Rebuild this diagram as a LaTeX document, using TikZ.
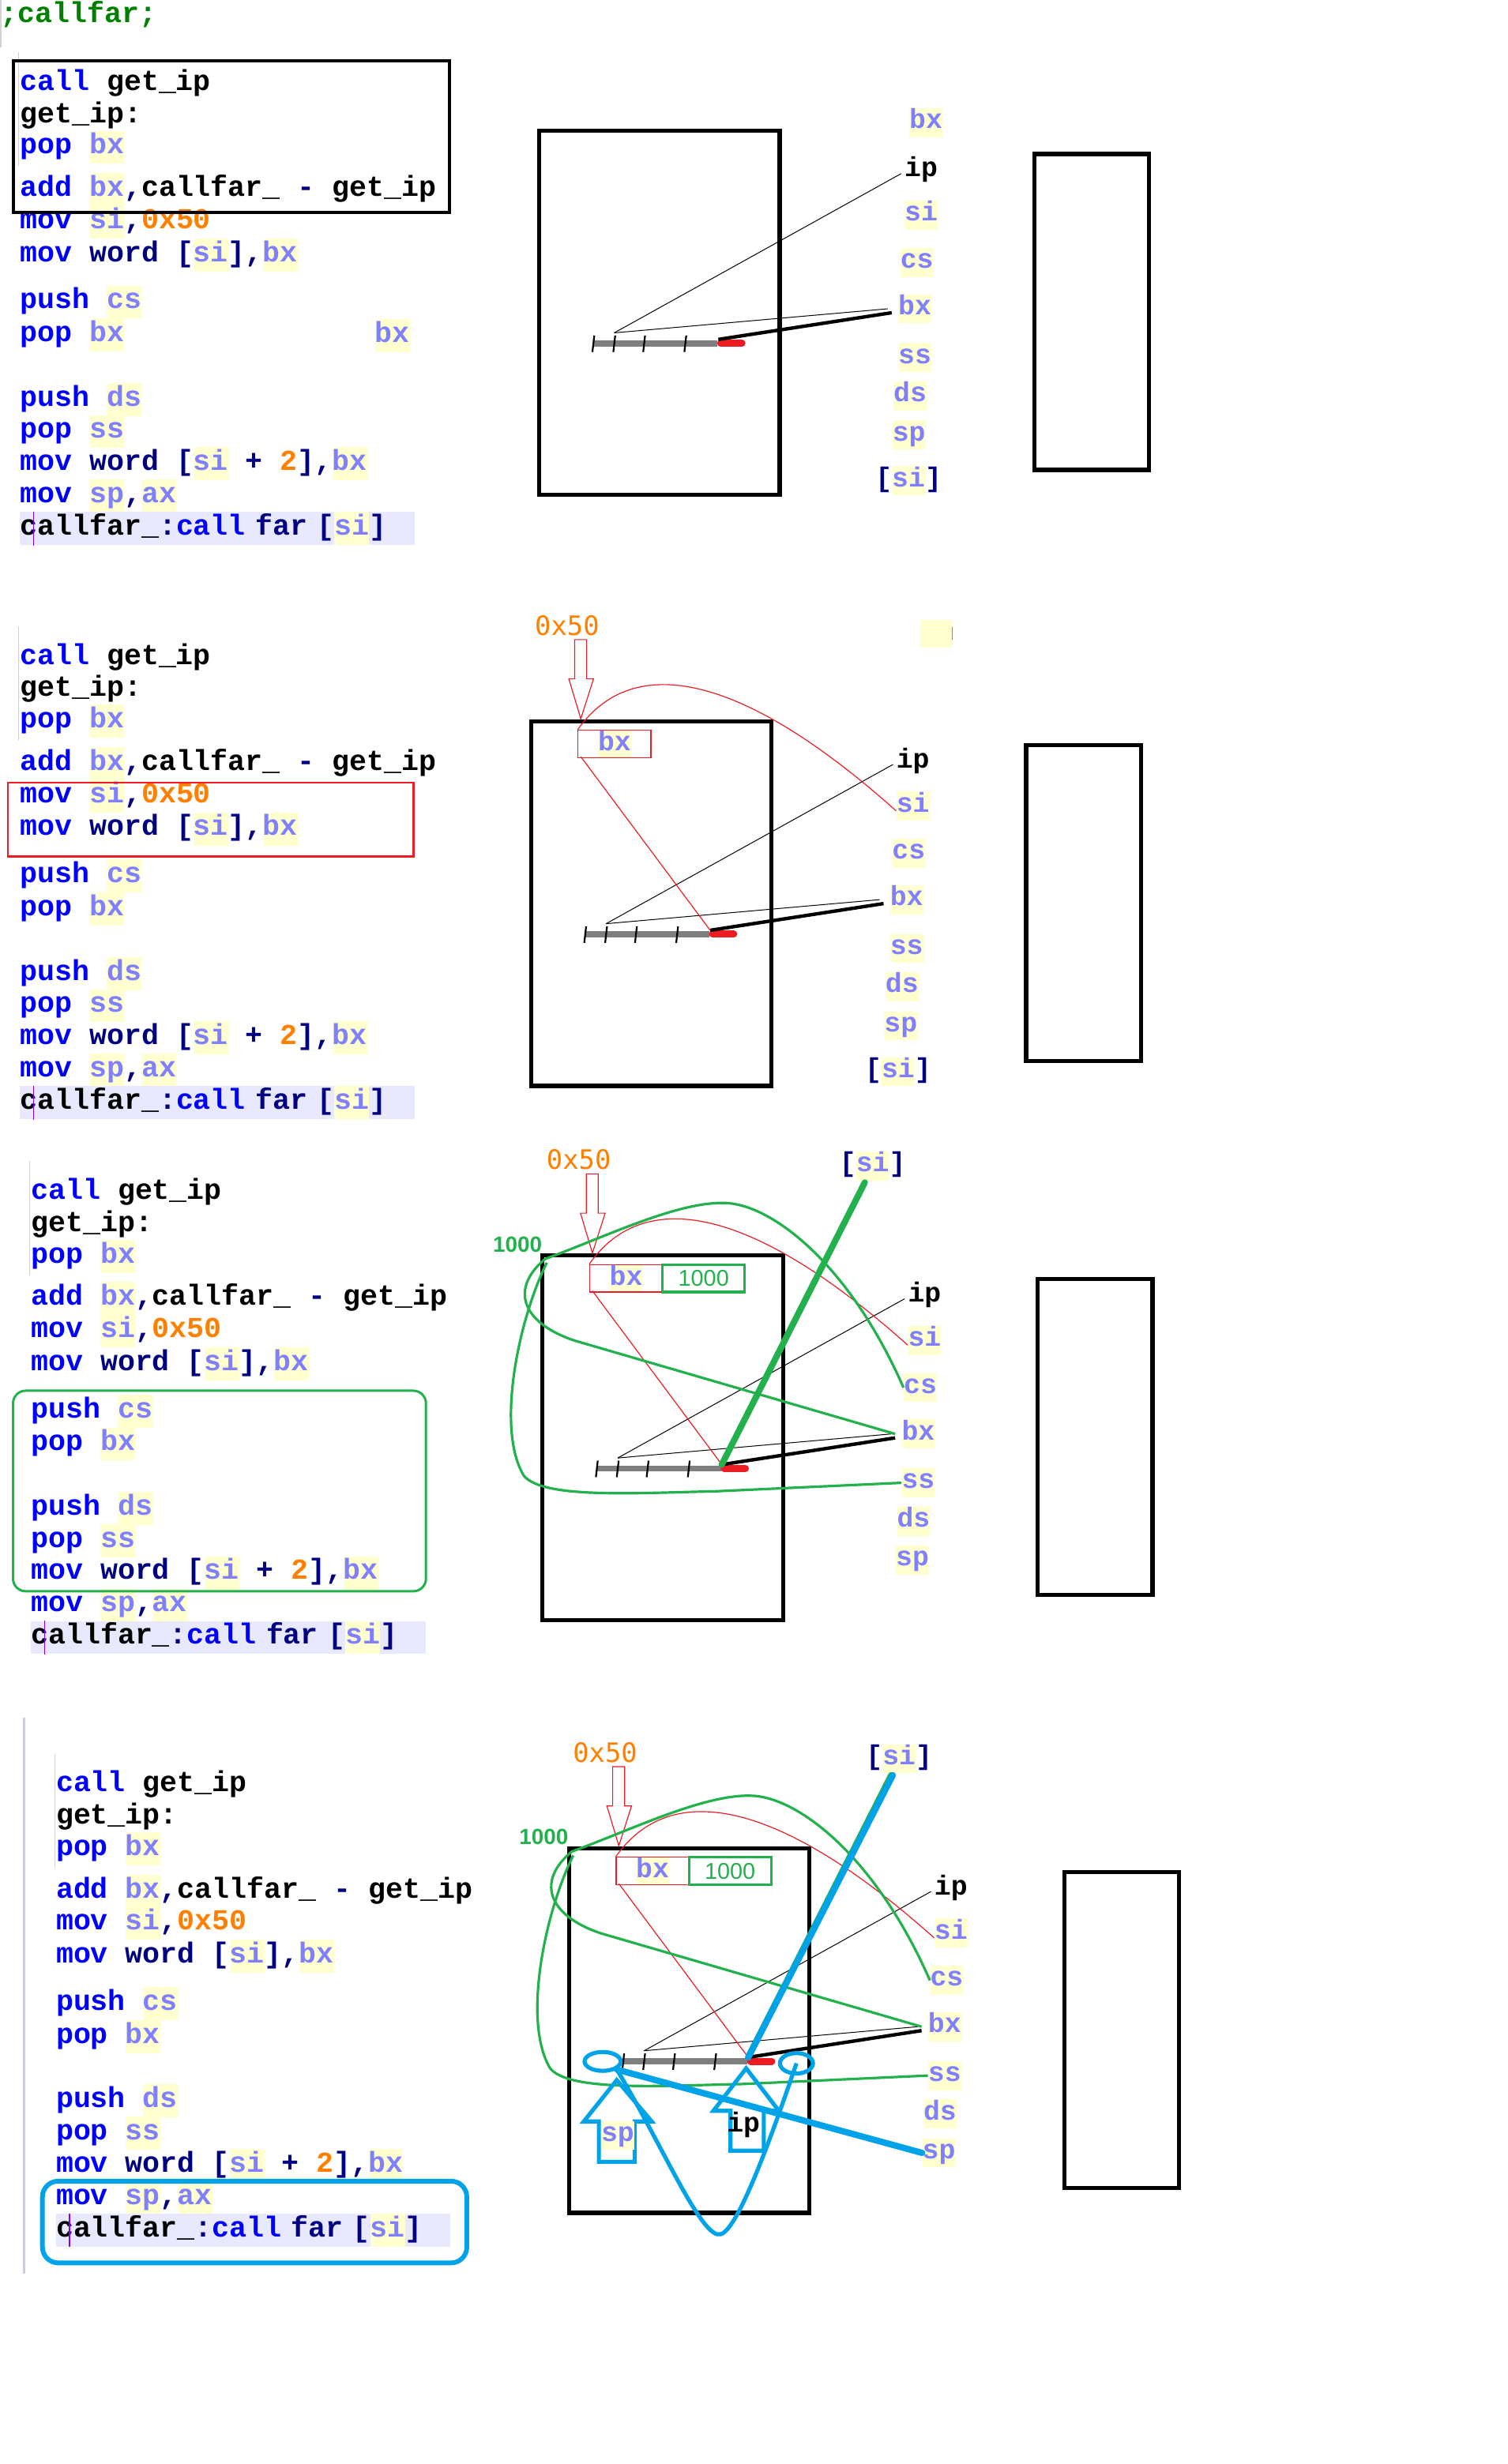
\documentclass[tikz,border=0pt]{standalone}
\usepackage{fontspec}
\setmonofont{Liberation Mono}
\newfontfamily\hexfont{DejaVu Sans Mono}
\newfontfamily\numfont{Liberation Sans}
\usepackage{xcolor}
\usetikzlibrary{shapes.geometric}

\definecolor{kwblue}{RGB}{0,0,255}
\definecolor{opnavy}{RGB}{0,0,128}
\definecolor{regblue}{RGB}{128,128,255}
\definecolor{hlyellow}{RGB}{255,255,208}
\definecolor{numorange}{RGB}{255,128,0}
\definecolor{curline}{RGB}{232,232,255}
\definecolor{cmtgreen}{RGB}{0,128,0}
\definecolor{paintred}{RGB}{237,28,36}
\definecolor{paintgreen}{RGB}{34,177,76}
\definecolor{paintblue}{RGB}{0,162,232}
\definecolor{paintgray}{RGB}{127,127,127}
\definecolor{foldgray}{RGB}{210,210,210}
\definecolor{cursorpurple}{RGB}{128,0,255}
\definecolor{marginblue}{RGB}{200,208,224}

\newcommand{\codefont}{\ttfamily\bfseries\fontsize{18.4}{21}\selectfont}
\newcommand{\lblfont}{\ttfamily\bfseries\fontsize{17.5}{18.5}\selectfont}
\newcommand{\kw}[1]{\textcolor{kwblue}{#1}}
\newcommand{\nv}[1]{\textcolor{opnavy}{#1}}
\newcommand{\nm}[1]{\textcolor{numorange}{#1}}
\newcommand{\rg}[1]{{\setlength{\fboxsep}{0pt}\colorbox{hlyellow}{\strut\textcolor{regblue}{#1}}}}

% the 13 source lines, one node each
\newcommand{\codeblock}[1]{%
  \draw[foldline] (-0.5,-19.5) -- (-0.5,53);
  \foreach \ly/\ltxt [count=\li] in {
      0/{\kw{call} get\_ip},
      20.5/{get\_ip:},
      41/{\kw{pop} \rg{bx}},
      68/{\kw{add} \rg{bx}\nv{,}callfar\_ \nv{-} get\_ip},
      88.5/{\kw{mov} \rg{si}\nv{,}\nm{0x50}},
      109.5/{\kw{mov} \nv{word} \nv{[}\rg{si}\nv{],}\rg{bx}},
      139.5/{\kw{push} \rg{cs}},
      160.5/{\kw{pop} \rg{bx}},
      201.5/{\kw{push} \rg{ds}},
      222/{\kw{pop} \rg{ss}},
      242.5/{\kw{mov} \nv{word} \nv{[}\rg{si} \nv{+} \nm{2}\nv{],}\rg{bx}},
      263/{\kw{mov} \rg{sp}\nv{,}\rg{ax}}}
    {\node[codeline] (#1-\li) at (0,\ly) {\ltxt};}
  \node[codeline, fill=curline, text width=251pt, align=left] (#1-13) at (0,283.7)
    {callfar\_\nv{:}\kw{call} \nv{far} \nv{[}\rg{si}\nv{]}};
  \draw[cursorpurple, line width=0.6pt] ([xshift=8.7pt]#1-13.north west) -- ([xshift=8.7pt]#1-13.south west);
}

% memory picture: segment box, stack bar, register column
\newcommand{\memframe}[1]{%
  \draw[membox] (0,0) rectangle (153,232);
  \draw[membox] (315,15) rectangle (388,216);
  \draw[stackbar] (34.5,135.5) -- (113.5,135.5);
  \draw[redtip] (115.5,135.5) -- (129,135.5);
  \foreach \tx in {34.5,47.8,66.8,93}
    \draw[notch] (\tx+0.6,130.5) -- (\tx-0.6,141);
  \coordinate (#1-top) at (47.8,128.8);
  \coordinate (#1-tip) at (114,133);
  \node[iplbl] (#1-ip) at (243,25) {ip};
  \foreach \rn/\rx/\ry in {si/243/54, cs/240.3/84, bx/239/113.5, ss/239/144.6, ds/236/169, sp/235.3/193.8}
    \node[lbl] (#1-\rn) at (\rx,\ry) {\rg{\rn}};
  \draw[thinline] (#1-top) -- ([shift={(-2,2.5)}]#1-ip.west);
  \draw[thinline] (#1-top) -- ([shift={(-6.5,0)}]#1-bx.west);
  \draw[thickline] (#1-tip) -- ([shift={(-4,2.5)}]#1-bx.west);
}

% 0x50 written into [si]
\newcommand{\redpart}[1]{%
  \node[font=\hexfont\fontsize{17}{17}\selectfont, text=numorange, inner sep=0pt] (#1-hex) at (23,-61) {0x50};
  \draw[redpen] (27.8,-52) -- (35.4,-52) -- (35.4,-27) -- (39.8,-27) -- (31.7,-1.6) -- (24.1,-27) -- (27.8,-27) -- cycle;
  \node[redpen, minimum width=46.3pt, minimum height=17.5pt, inner sep=0pt,
        font=\lblfont\fontsize{17.5}{14}\selectfont] (#1-bxbox) at (53.15,14.45) {\rg{bx}};
  \draw[redpen] (#1-bxbox.north west) .. controls (65,-45) and (135,-30) .. ([shift={(0,3)}]#1-si.west);
  \draw[redpen] ([shift={(2,-1)}]#1-bxbox.south west) -- (#1-tip);
}

% segment 1000 from cs, ss
\newcommand{\greenpart}[1]{%
  \node[font=\numfont\bfseries\fontsize{14}{14}\selectfont, text=paintgreen, inner sep=0pt] (#1-addr) at (-16,-7.2) {1000};
  \node[draw=paintgreen, line width=1.6pt, minimum width=52.3pt, minimum height=17.5pt, inner sep=0pt,
        font=\numfont\fontsize{14.5}{14}\selectfont, text=paintgreen] (#1-val) at (102.45,14.45) {1000};
  \coordinate (#1-corner) at (1.7,2.1);
  \draw[greenpen] (#1-corner) .. controls (40,-12) and (85,-34) .. (115,-33.5)
    .. controls (145,-33.5) and (195,5) .. (#1-cs.west);
  \draw[greenpen] (#1-corner) .. controls (-20,20) and (-15,42) .. (20,54) -- ([shift={(-4,0)}]#1-bx.west);
  \draw[greenpen] ([shift={(1,2.4)}]#1-corner) .. controls (-15,40) and (-30,110) .. (-12,140)
    .. controls (0,155) and (60,151) .. (110,150) -- (#1-ss.west);
  \draw[paintgreen, line width=4pt, line cap=round] ([shift={(-5,1)}]#1-psi.south) -- (#1-tip);
}

\begin{document}
\begin{tikzpicture}[x=1pt,y=-1pt,
    codeline/.style={anchor=west, inner sep=0pt, font=\codefont},
    lbl/.style={inner sep=0pt, font=\lblfont},
    iplbl/.style={inner sep=0pt, font=\lblfont},
    membox/.style={draw=black, line width=2.6pt},
    stackbar/.style={draw=paintgray, line width=4pt},
    redtip/.style={draw=paintred, line width=4.5pt, line cap=round},
    notch/.style={draw=black, line width=1.1pt},
    thinline/.style={draw=black, line width=0.5pt},
    thickline/.style={draw=black, line width=2.2pt},
    redpen/.style={draw=paintred, line width=0.6pt},
    greenpen/.style={draw=paintgreen, line width=1.6pt},
    bluepen/.style={draw=paintblue, line width=2.6pt},
    foldline/.style={draw=foldgray, line width=0.6pt}]

    \useasboundingbox (0,0) rectangle (959,1568);

    %% panel 1
    \draw[foldline] (0.5,0) -- (0.5,30);
    \node[codeline, text=cmtgreen] (title) at (0,9) {;callfar;};
    \begin{scope}[shift={(12.5,52.7)}]
        \codeblock{ca}
    \end{scope}
    \node[codeline] (ca-bxpop) at (238.5,213.5) {\rg{bx}};
    \draw[black, line width=2pt] (8.7,38.6) rectangle (286,135);
    \begin{scope}[shift={(343,83)}]
        \memframe{pa}
        \node[lbl] (pa-bxtop) at (246,-5) {\rg{bx}};
        \node[lbl] (pa-psi) at (235,223) {\nv{[}\rg{si}\nv{]}};
    \end{scope}

    %% panel 2
    \begin{scope}[shift={(12.5,418)}]
        \codeblock{cb}
    \end{scope}
    \draw[paintred, line width=1.2pt] (5,498) rectangle (263,545);
    \fill[hlyellow] (585.3,394.6) rectangle (606.3,412.2);
    \draw[regblue, line width=0.5pt] (605.8,399) -- (605.8,407);
    \begin{scope}[shift={(337.8,459)}]
        \memframe{pb}
        \node[lbl] (pb-psi) at (233.6,223) {\nv{[}\rg{si}\nv{]}};
        \redpart{pb}
    \end{scope}

    %% panel 3
    \begin{scope}[shift={(19.5,758.4)}]
        \codeblock{cc}
    \end{scope}
    \draw[paintgreen, line width=1.5pt, rounded corners=8pt] (8.3,885) rectangle (271,1012.6);
    \begin{scope}[shift={(345.2,799)}]
        \memframe{pc}
        \node[lbl] (pc-psi) at (210,-57) {\nv{[}\rg{si}\nv{]}};
        \redpart{pc}
        \greenpart{pc}
    \end{scope}

    %% panel 4
    \draw[marginblue, line width=1.5pt] (15.4,1093) -- (15.4,1447);
    \begin{scope}[shift={(35.5,1135.5)}]
        \codeblock{cd}
    \end{scope}
    \draw[paintblue, line width=3pt, rounded corners=10pt] (27,1388) rectangle (297,1440);
    \begin{scope}[shift={(362,1176.2)}]
        \memframe{pd}
        \node[lbl] (pd-psi) at (210,-57) {\nv{[}\rg{si}\nv{]}};
        \redpart{pd}
        \greenpart{pd}
        % far call: sp and ip
        \node[bluepen, ellipse, minimum width=23pt, minimum height=12pt, inner sep=0pt] (pd-spmark) at (21.4,135.6) {};
        \node[bluepen, ellipse, minimum width=21pt, minimum height=13pt, inner sep=0pt] (pd-ipmark) at (144.7,136.8) {};
        \draw[bluepen] (19,199.5) -- (19,173.8) -- (9.4,173.8) -- (30.4,147.5) -- (52.6,173.8) -- (41.8,173.8) -- (41.8,199.5) -- cycle;
        \draw[bluepen] (102.7,192.4) -- (102.7,167) -- (91.9,167) -- (112.7,140) -- (133.5,167) -- (123.9,167) -- (123.9,192.4) -- cycle;
        \node[lbl] (pd-spup) at (31,182.7) {\rg{sp}};
        \node[iplbl] (pd-ipup) at (111,176) {ip};
        \draw[paintblue, line width=4pt, line cap=round] ([shift={(-4,1)}]pd-psi.south) -- (pd-tip);
        \draw[paintblue, line width=4pt, line cap=round] (pd-spmark.south east) -- (pd-sp.west);
        \draw[bluepen] (pd-spmark.south east) .. controls (60,190) and (85,250) .. (96.7,245.5)
            .. controls (108,242) and (130,180) .. (pd-ipmark.center);
    \end{scope}

\end{tikzpicture}
\end{document}
